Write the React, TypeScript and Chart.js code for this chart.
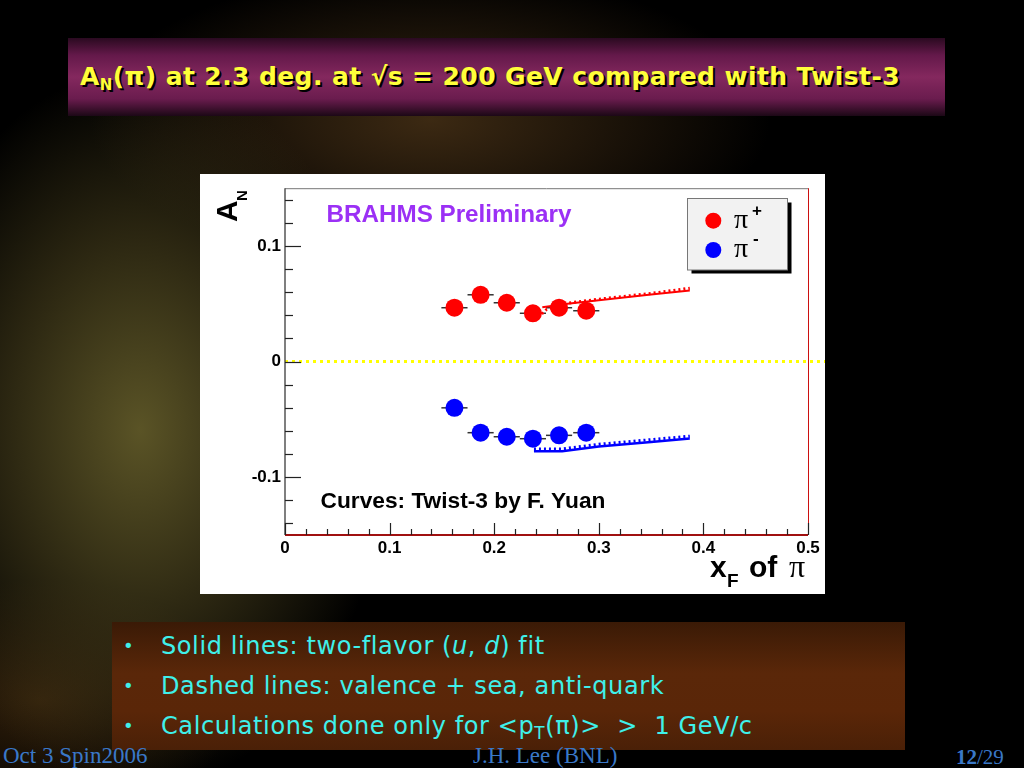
import React, { useEffect, useRef } from "react";
import { Chart, registerables } from "chart.js";
Chart.register(...registerables);

// ---------- data ----------
const xFBins = [0.162, 0.187, 0.212, 0.237, 0.262, 0.288];
const xFHalfWidth = [0.0125, 0.0125, 0.0125, 0.0125, 0.0125, 0.0125];
const anPiPlus = [0.0466, 0.0578, 0.0509, 0.0418, 0.0466, 0.044];
const anPiMinus = [-0.04, -0.0615, -0.065, -0.0667, -0.0638, -0.0615];

const twistXPlusSolid = [0.246, 0.27, 0.3, 0.35, 0.387];
const twistPlusSolid = [0.047, 0.05, 0.053, 0.058, 0.0615];
const twistXPlusDashed = [0.238, 0.244, 0.25, 0.27, 0.3, 0.35, 0.387];
const twistPlusDashed = [0.036, 0.04, 0.045, 0.0505, 0.054, 0.059, 0.0635];
const twistXMinus = [0.238, 0.265, 0.3, 0.35, 0.387];
const twistMinusSolid = [-0.0775, -0.0775, -0.0735, -0.0695, -0.0665];
const twistMinusDashed = [-0.0755, -0.0755, -0.0715, -0.0675, -0.0645];

const xMajorTicks = [0, 0.1, 0.2, 0.3, 0.4, 0.5];
const xTickLabels = ["0", "0.1", "0.2", "0.3", "0.4", "0.5"];
const yMajorTicks = [-0.1, 0, 0.1];
const yTickLabels = ["-0.1", "0", "0.1"];

const pts = (xs: number[], ys: number[]) => xs.map((x, i) => ({ x, y: ys[i] }));

const SANS = "'Liberation Sans', Arial, sans-serif";

function fitFont(ctx: CanvasRenderingContext2D, text: string, width: number, weight: string, family: string) {
  ctx.font = `${weight} 20px ${family}`;
  const w = ctx.measureText(text).width;
  const size = (20 * width) / w;
  ctx.font = `${weight} ${size}px ${family}`;
}

const decorPlugin = {
  id: "decor",
  beforeDatasetsDraw(chart: any) {
    const { ctx, chartArea: a, scales } = chart;
    const xs = scales.x, ys = scales.y;
    ctx.save();
    // zero line
    const y0 = ys.getPixelForValue(0);
    ctx.strokeStyle = "#ffff00";
    ctx.lineWidth = 3;
    ctx.setLineDash([3, 4]);
    ctx.beginPath();
    ctx.moveTo(a.left, y0);
    ctx.lineTo(chart.width, y0);
    ctx.stroke();
    ctx.setLineDash([]);
    // frame
    ctx.lineWidth = 1;
    ctx.strokeStyle = "#777";
    ctx.beginPath();
    ctx.moveTo(a.left, a.top + 0.5);
    ctx.lineTo(a.right, a.top + 0.5);
    ctx.stroke();
    ctx.strokeStyle = "#cc1010";
    ctx.beginPath();
    ctx.moveTo(a.right + 0.5, a.top);
    ctx.lineTo(a.right + 0.5, a.bottom);
    ctx.stroke();
    ctx.lineWidth = 2;
    ctx.strokeStyle = "#a01010";
    ctx.beginPath();
    ctx.moveTo(a.left, a.bottom);
    ctx.lineTo(a.right, a.bottom);
    ctx.stroke();
    ctx.strokeStyle = "#555";
    ctx.lineWidth = 1.5;
    ctx.beginPath();
    ctx.moveTo(a.left, a.top);
    ctx.lineTo(a.left, a.bottom);
    ctx.stroke();
    // ticks
    ctx.strokeStyle = "#222";
    ctx.lineWidth = 1.2;
    for (let k = -7; k <= 7; k++) {
      const v = k * 0.02;
      const p = Math.round(ys.getPixelForValue(v)) + 0.5;
      const major = k % 5 === 0;
      ctx.beginPath();
      ctx.moveTo(a.left, p);
      ctx.lineTo(a.left + (major ? 16 : 8), p);
      ctx.stroke();
    }
    for (let k = 0; k <= 25; k++) {
      const v = k * 0.02;
      const p = Math.round(xs.getPixelForValue(v)) + 0.5;
      const major = k % 5 === 0;
      ctx.beginPath();
      ctx.moveTo(p, a.bottom);
      ctx.lineTo(p, a.bottom - (major ? 12 : 6));
      ctx.stroke();
    }
    // x error bars
    ctx.strokeStyle = "#333";
    ctx.lineWidth = 1.5;
    [anPiPlus, anPiMinus].forEach((arr) => {
      xFBins.forEach((x, i) => {
        const py = ys.getPixelForValue(arr[i]);
        ctx.beginPath();
        ctx.moveTo(xs.getPixelForValue(x - xFHalfWidth[i]), py);
        ctx.lineTo(xs.getPixelForValue(x + xFHalfWidth[i]), py);
        ctx.stroke();
      });
    });
    ctx.restore();
  },
  afterDraw(chart: any) {
    const { ctx } = chart;
    ctx.save();
    // Y title A_N (rotated)
    ctx.fillStyle = "#000";
    ctx.textBaseline = "alphabetic";
    ctx.textAlign = "left";
    ctx.save();
    ctx.translate(37, 48);
    ctx.rotate(-Math.PI / 2);
    ctx.font = `bold 30px ${SANS}`;
    ctx.fillText("A", 0, 0);
    ctx.restore();
    ctx.save();
    ctx.translate(47, 27);
    ctx.rotate(-Math.PI / 2);
    ctx.font = `bold 15px ${SANS}`;
    ctx.fillText("N", 0, 0);
    ctx.restore();
    // X title
    ctx.font = `bold 30px ${SANS}`;
    ctx.fillText("x", 510, 402.7);
    ctx.font = `bold 19px ${SANS}`;
    ctx.fillText("F", 527, 413.3);
    ctx.font = `bold 30px ${SANS}`;
    ctx.fillText("of", 549, 402.7);
    ctx.font = `32px 'Liberation Serif', serif`;
    ctx.fillText("π", 589, 402.7);
    // annotations
    ctx.fillStyle = "#9b30f5";
    fitFont(ctx, "BRAHMS Preliminary", 245, "bold", SANS);
    ctx.fillText("BRAHMS Preliminary", 126.5, 47.5);
    ctx.fillStyle = "#000";
    fitFont(ctx, "Curves: Twist-3 by F. Yuan", 285, "bold", SANS);
    ctx.fillText("Curves: Twist-3 by F. Yuan", 120.5, 334);
    // legend box
    ctx.fillStyle = "#000";
    ctx.fillRect(491.5, 28.5, 100, 71);
    ctx.fillStyle = "#f2f2f2";
    ctx.fillRect(487.5, 24.5, 100, 71.5);
    ctx.strokeStyle = "#777";
    ctx.lineWidth = 1;
    ctx.strokeRect(487.5, 24.5, 100, 71.5);
    ctx.fillStyle = "#ff0000";
    ctx.beginPath();
    ctx.arc(513.3, 46.7, 8, 0, Math.PI * 2);
    ctx.fill();
    ctx.fillStyle = "#0000ff";
    ctx.beginPath();
    ctx.arc(513.3, 76, 8, 0, Math.PI * 2);
    ctx.fill();
    ctx.fillStyle = "#000";
    ctx.font = `28px 'Liberation Serif', serif`;
    ctx.fillText("π", 534, 54);
    ctx.fillText("π", 534, 82.5);
    ctx.font = `bold 17px ${SANS}`;
    ctx.fillText("+", 552, 42);
    ctx.fillText("-", 553, 70);
    ctx.restore();
  },
};

function AsymmetryChart() {
  const ref = useRef<HTMLCanvasElement | null>(null);
  useEffect(() => {
    if (!ref.current) return;
    const chart = new Chart(ref.current, {
      type: "scatter",
      data: {
        datasets: [
          {
            label: "π+",
            data: pts(xFBins, anPiPlus),
            pointRadius: 9,
            pointBackgroundColor: "#ff0000",
            pointBorderWidth: 0,
            showLine: false,
          },
          {
            label: "π-",
            data: pts(xFBins, anPiMinus),
            pointRadius: 9,
            pointBackgroundColor: "#0000ff",
            pointBorderWidth: 0,
            showLine: false,
          },
          {
            label: "Twist-3 π+ (two-flavor)",
            data: pts(twistXPlusSolid, twistPlusSolid),
            showLine: true,
            pointRadius: 0,
            borderColor: "#ff0000",
            borderWidth: 2,
          },
          {
            label: "Twist-3 π+ (valence+sea)",
            data: pts(twistXPlusDashed, twistPlusDashed),
            showLine: true,
            pointRadius: 0,
            borderColor: "#ff0000",
            borderWidth: 3,
            borderDash: [2, 3],
          },
          {
            label: "Twist-3 π- (two-flavor)",
            data: pts(twistXMinus, twistMinusSolid),
            showLine: true,
            pointRadius: 0,
            borderColor: "#0000ff",
            borderWidth: 2.5,
          },
          {
            label: "Twist-3 π- (valence+sea)",
            data: pts(twistXMinus, twistMinusDashed),
            showLine: true,
            pointRadius: 0,
            borderColor: "#0000ff",
            borderWidth: 3,
            borderDash: [2, 3],
          },
        ],
      },
      options: {
        animation: false,
        responsive: false,
        maintainAspectRatio: false,
        layout: { padding: { top: 11, right: 17, left: 0, bottom: 0 } },
        plugins: { legend: { display: false }, tooltip: { enabled: false } },
        scales: {
          x: {
            type: "linear",
            min: 0,
            max: 0.5,
            afterBuildTicks: (s: any) => {
              s.ticks = xMajorTicks.map((v) => ({ value: v }));
            },
            afterFit: (s: any) => {
              s.height = 59;
            },
            ticks: {
              callback: (_v: any, i: number) => xTickLabels[i],
              font: { family: SANS, weight: "bold", size: 17 },
              color: "#000",
              padding: 3,
              maxRotation: 0,
              autoSkip: false,
            },
            grid: { display: false, drawTicks: false },
            border: { display: false },
          },
          y: {
            type: "linear",
            min: -0.15,
            max: 0.15,
            afterBuildTicks: (s: any) => {
              s.ticks = yMajorTicks.map((v) => ({ value: v }));
            },
            afterFit: (s: any) => {
              s.width = 85;
            },
            ticks: {
              callback: (_v: any, i: number) => yTickLabels[i],
              font: { family: SANS, weight: "bold", size: 17 },
              color: "#000",
              padding: 4,
              autoSkip: false,
            },
            grid: { display: false, drawTicks: false },
            border: { display: false },
          },
        },
      },
      plugins: [decorPlugin],
    } as any);
    return () => chart.destroy();
  }, []);
  return <canvas ref={ref} width={625} height={420} style={{ display: "block", width: 625, height: 420 }} />;
}

const bulletStyle: React.CSSProperties = {
  position: "absolute",
  left: 0,
  color: "#3ff0ea",
  fontFamily: "'DejaVu Sans', sans-serif",
  fontSize: 24,
  letterSpacing: 0.6,
  whiteSpace: "nowrap",
  lineHeight: "28px",
};

const footerStyle: React.CSSProperties = {
  position: "absolute",
  top: 743,
  color: "#3a78c8",
  fontFamily: "'Liberation Serif', serif",
  fontSize: 23,
  whiteSpace: "nowrap",
};

export default function App() {
  return (
    <div
      style={{
        position: "fixed",
        left: 0,
        top: 0,
        width: 1024,
        height: 768,
        overflow: "hidden",
        background:
          "radial-gradient(ellipse 250px 360px at 140px 430px, rgba(95,88,40,0.95), rgba(70,62,28,0.6) 55%, rgba(0,0,0,0) 100%)," +
          "radial-gradient(ellipse 340px 150px at 430px 120px, rgba(80,55,25,0.75), rgba(0,0,0,0) 100%)," +
          "radial-gradient(ellipse 200px 120px at 40px 700px, rgba(70,45,15,0.7), rgba(0,0,0,0) 100%)," +
          "#000",
      }}
    >
      {/* title banner */}
      <div
        style={{
          position: "absolute",
          left: 68,
          top: 38,
          width: 877,
          height: 78,
          background:
            "linear-gradient(to bottom, #2a0a20 0%, #64194a 22%, #84285e 50%, #6a1c4e 78%, #1c0816 100%)",
        }}
      />
      <div
        style={{
          position: "absolute",
          left: 80,
          top: 62,
          color: "#ffff3a",
          fontFamily: "'DejaVu Sans', sans-serif",
          fontWeight: "bold",
          fontSize: 25,
          letterSpacing: 0.4,
          whiteSpace: "nowrap",
          textShadow: "2px 2px 0 #000",
          lineHeight: "30px",
        }}
      >
        A<sub style={{ fontSize: "0.6em", verticalAlign: "-0.3em" }}>N</sub>(π) at 2.3 deg. at √s = 200 GeV compared with Twist-3
      </div>

      {/* chart panel */}
      <div style={{ position: "absolute", left: 200, top: 174, width: 625, height: 420, background: "#fff" }}>
        <AsymmetryChart />
      </div>

      {/* bullet box */}
      <div
        style={{
          position: "absolute",
          left: 112,
          top: 622,
          width: 793,
          height: 128,
          background: "linear-gradient(to bottom, #3a1a06 0%, #5a2709 40%, #5a2608 70%, #4a2007 100%)",
        }}
      >
        {[
          <>Solid lines: two-flavor (<i>u</i>, <i>d</i>) fit</>,
          <>Dashed lines: valence + sea, anti-quark</>,
          <>
            Calculations done only for &lt;p<sub style={{ fontSize: "0.7em", verticalAlign: "-0.3em" }}>T</sub>(π)&gt;&nbsp; &gt;&nbsp; 1 GeV/c
          </>,
        ].map((c, i) => (
          <div key={i} style={{ ...bulletStyle, top: 10 + i * 40 }}>
            <span style={{ position: "absolute", left: 11, fontSize: 18 }}>•</span>
            <span style={{ position: "absolute", left: 49 }}>{c}</span>
          </div>
        ))}
      </div>

      {/* footer */}
      <div style={{ ...footerStyle, left: 3 }}>Oct 3 Spin2006</div>
      <div style={{ ...footerStyle, left: 473 }}>J.H. Lee (BNL)</div>
      <div style={{ ...footerStyle, left: 956, fontSize: 21, top: 745 }}>
        <b>12</b>/29
      </div>
    </div>
  );
}
